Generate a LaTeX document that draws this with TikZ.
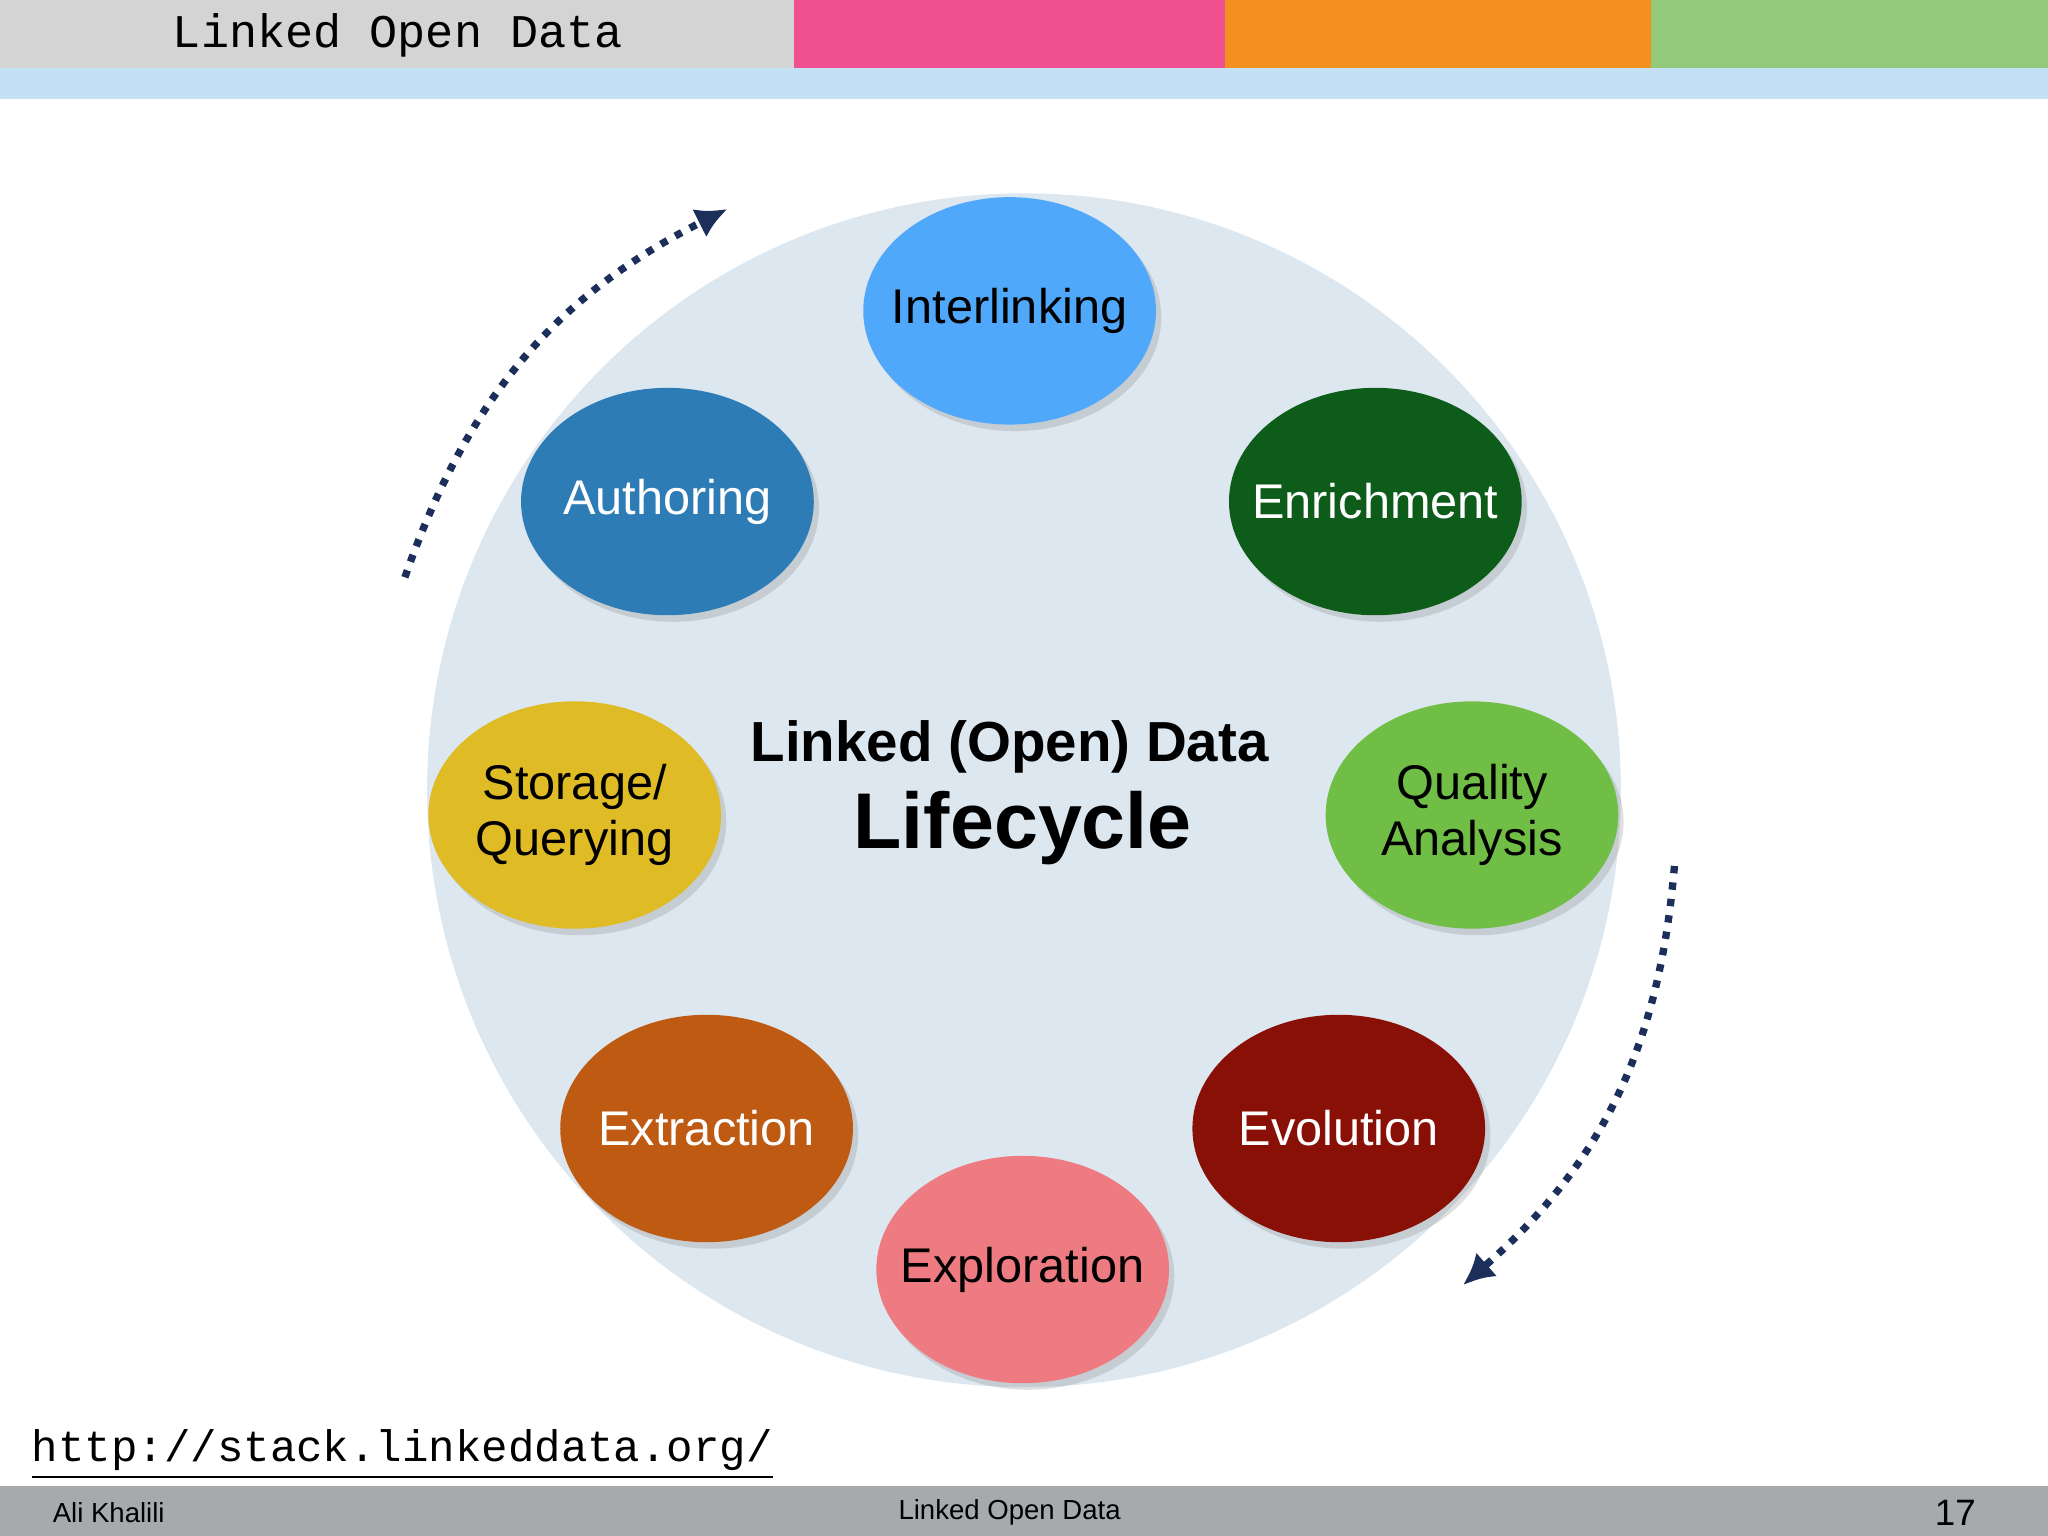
\documentclass[tikz,border=0pt]{standalone}
\usepackage{fontspec}
\setmainfont{Liberation Sans}
\setmonofont{Liberation Mono}
\usetikzlibrary{shapes.geometric,arrows.meta,shadows}

\definecolor{barGray}{HTML}{D4D4D4}
\definecolor{barPink}{HTML}{EE5090}
\definecolor{barOrange}{HTML}{F39020}
\definecolor{barGreen}{HTML}{92C97A}
\definecolor{stripBlue}{HTML}{C4E0F4}
\definecolor{discBlue}{HTML}{DDE7F0}
\definecolor{footGray}{HTML}{A6AAAC}
\definecolor{arrowNavy}{HTML}{1C2F5A}
\definecolor{cInter}{HTML}{50A8FB}
\definecolor{cAuth}{HTML}{2E7CB5}
\definecolor{cEnrich}{HTML}{0E5C1A}
\definecolor{cStore}{HTML}{DFBB26}
\definecolor{cQual}{HTML}{70BE45}
\definecolor{cExtr}{HTML}{BE5A11}
\definecolor{cEvol}{HTML}{881006}
\definecolor{cExpl}{HTML}{EE7B81}

\tikzset{
  stage/.style={ellipse, minimum width=2.24cm, minimum height=1.74cm, inner xsep=-0.3cm, inner ysep=0pt,
    align=center, font=\fontsize{10.6}{12.3}\selectfont,
    drop shadow={opacity=0.25, shadow xshift=0.04cm, shadow yshift=-0.05cm}},
  cycle arrow/.style={arrowNavy, line width=1.6pt, dotted, -{Latex[length=2.4mm,width=2.4mm]}}
}

\begin{document}
\begin{tikzpicture}[x=0.01cm, y=-0.01cm]
      \useasboundingbox (0,0) rectangle (1568,1176);
      % header bars
      \fill[barGray] (0,0) rectangle (608,52);
      \fill[barPink] (608,0) rectangle (938,52);
      \fill[barOrange] (938,0) rectangle (1264,52);
      \fill[barGreen] (1264,0) rectangle (1568,52);
      \fill[stripBlue] (0,52) rectangle (1568,76);
      \node[font=\ttfamily\fontsize{10.2}{12}\selectfont, anchor=west] (title) at (120,27) {Linked Open Data};

      % disc
      \fill[discBlue] (784,605) circle (457);

      % stages
      \node[stage, fill=cInter] (inter) at (773,238) {Interlinking};
      \node[stage, fill=cAuth, text=white] (auth) at (511,384) {Authoring};
      \node[stage, fill=cEnrich, text=white] (enrich) at (1053,384) {Enrichment};
      \node[stage, fill=cStore] (store) at (440,624) {Storage/\\Querying};
      \node[stage, fill=cQual] (qual) at (1127,624) {Quality\\Analysis};
      \node[stage, fill=cExtr, text=white] (extr) at (541,864) {Extraction};
      \node[stage, fill=cEvol, text=white] (evol) at (1025,864) {Evolution};
      \node[stage, fill=cExpl] (expl) at (783,972) {Exploration};

      % centre
      \node[font=\bfseries\fontsize{12.3}{14}\selectfont] (head) at (773,572) {Linked (Open) Data};
      \node[font=\bfseries\fontsize{17.2}{20}\selectfont] (life) at (783,634) {Lifecycle};

      % cycle arrows
      \coordinate (la) at (310,442);
      \coordinate (lb) at (557,160);
      \coordinate (ra) at (1282,663);
      \coordinate (rb) at (1120,984);
      \draw[cycle arrow] (la) to[bend left=22] (lb);
      \draw[cycle arrow] (ra) to[bend left=22] (rb);

      % source
      \node[font=\ttfamily\fontsize{9.6}{11}\selectfont, anchor=west] (src) at (12,1114) {\underline{http://stack.linkeddata.org/}};

      % footer
      \fill[footGray] (0,1138) rectangle (1568,1176);
      \node[font=\fontsize{6}{7}\selectfont, anchor=west] (author) at (28,1158) {Ali Khalili};
      \node[font=\fontsize{6}{7}\selectfont] (foot) at (773,1158) {Linked Open Data};
      \node[font=\fontsize{8}{9}\selectfont] (page) at (1497,1158) {17};
\end{tikzpicture}
\end{document}
